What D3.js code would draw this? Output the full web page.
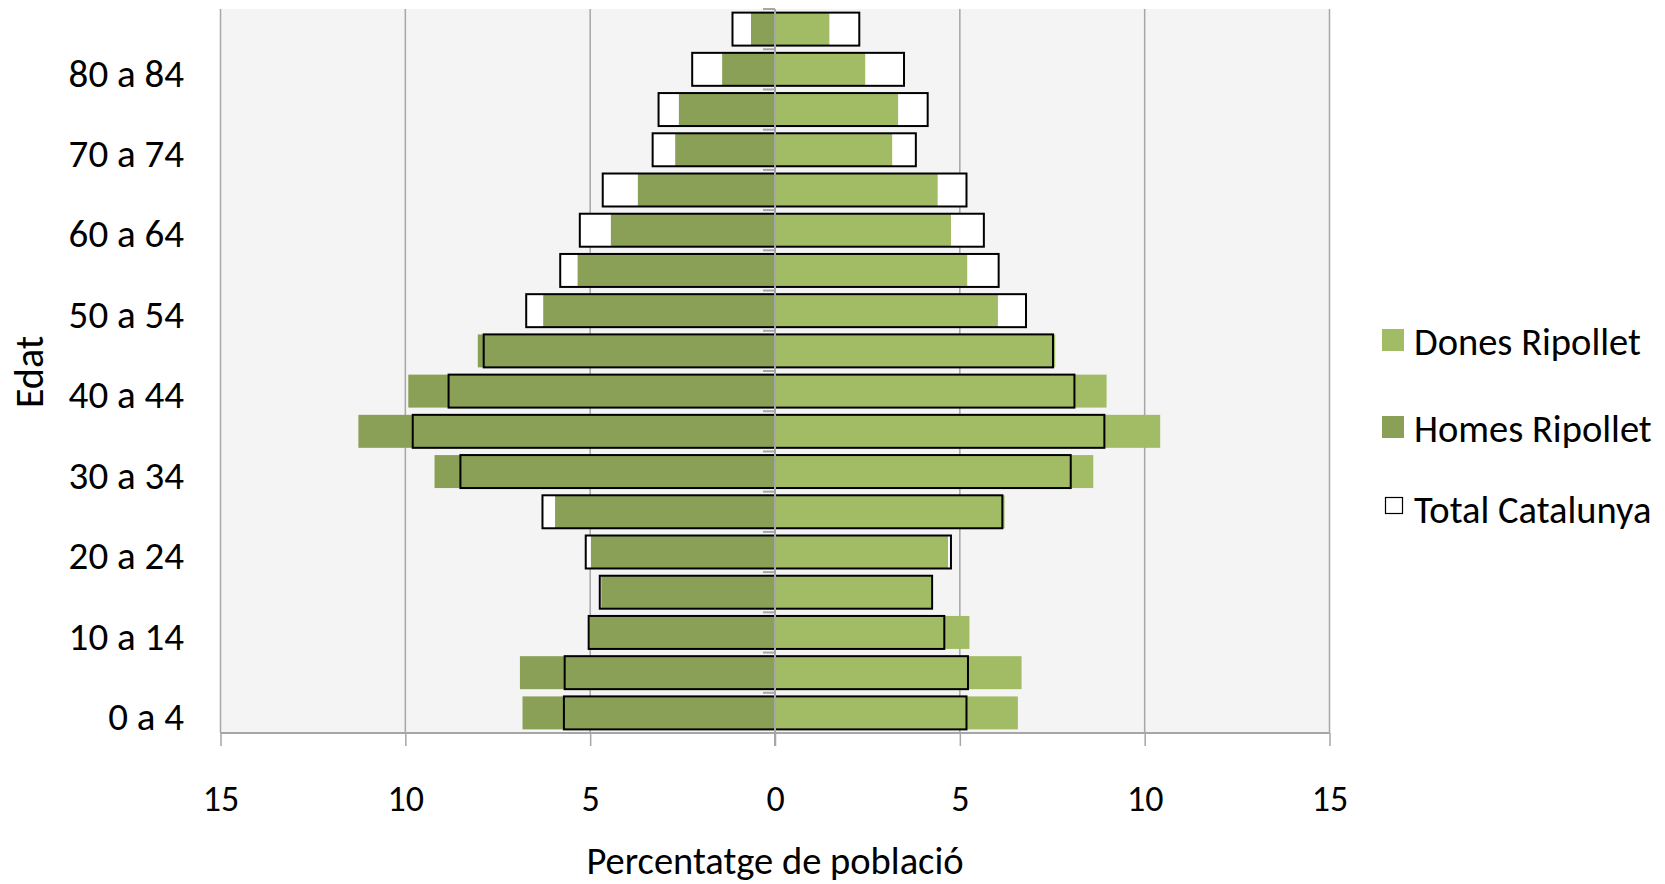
<!DOCTYPE html>
<html>
<head>
<meta charset="utf-8">
<script src="https://cdn.jsdelivr.net/npm/d3@7"></script>
<style>
  html, body { margin: 0; padding: 0; background: #ffffff; }
  svg { display: block; }
  text { font-family: Carlito, Calibri, Lato, sans-serif; fill: #000; }
</style>
</head>
<body>
<svg id="chart" width="1665" height="884"></svg>
<script>
// ---- data (bottom to top) ----
const ages = ["0 a 4","5 a 9","10 a 14","15 a 19","20 a 24","25 a 29","30 a 34","35 a 39","40 a 44","45 a 49","50 a 54","55 a 59","60 a 64","65 a 69","70 a 74","75 a 79","80 a 84","85 i més"];
const homesRipollet   = [6.83, 6.90, 5.02, 4.70, 4.98, 5.95, 9.21, 11.27, 9.92, 8.04, 6.27, 5.34, 4.44, 3.71, 2.70, 2.60, 1.43, 0.65];
const donesRipollet   = [6.57, 6.67, 5.26, 4.22, 4.68, 6.21, 8.61, 10.42, 8.97, 7.58, 6.03, 5.20, 4.76, 4.40, 3.17, 3.33, 2.44, 1.47];
const homesCatalunya  = [5.71, 5.69, 5.04, 4.74, 5.12, 6.29, 8.51, 9.80, 8.83, 7.88, 6.73, 5.81, 5.28, 4.66, 3.31, 3.15, 2.24, 1.15];
const donesCatalunya  = [5.18, 5.22, 4.58, 4.25, 4.76, 6.15, 8.00, 8.91, 8.10, 7.52, 6.79, 6.05, 5.65, 5.18, 3.81, 4.13, 3.49, 2.28];
const xTicks = [-15, -10, -5, 0, 5, 10, 15];
const legendItems = ["Dones Ripollet", "Homes Ripollet", "Total Catalunya"];

const colDones = "#A2BB65", colHomes = "#8AA056", gridCol = "#A6A6A6";

const svg = d3.select("#chart");
const pLeft = 220.5, pRight = 1329.5, pTop = 9, pBottom = 733;

const x = d3.scaleLinear().domain([-15, 15]).range([pLeft, pRight]);
const y = d3.scaleBand().domain(ages).range([pBottom, pTop]).paddingInner(0.18).paddingOuter(0.09);

// plot background
svg.append("rect").attr("x", pLeft).attr("y", pTop).attr("width", pRight - pLeft).attr("height", pBottom - pTop).attr("fill", "#F4F4F4");

// gridlines
svg.append("g").selectAll("line").data(xTicks.filter(d => d !== 0)).join("line")
  .attr("x1", d => x(d)).attr("x2", d => x(d)).attr("y1", pTop).attr("y2", pBottom)
  .attr("stroke", gridCol).attr("stroke-width", 1.5);

const bw = y.bandwidth();
const rows = ages.map((a, i) => ({a, hr: homesRipollet[i], dr: donesRipollet[i], hc: homesCatalunya[i], dc: donesCatalunya[i]}));

// Catalunya white fill
const gC = svg.append("g");
gC.selectAll("rect.hcw").data(rows).join("rect").attr("class", "hcw")
  .attr("x", d => x(-d.hc)).attr("width", d => x(0) - x(-d.hc)).attr("y", d => y(d.a)).attr("height", bw).attr("fill", "#fff");
gC.selectAll("rect.dcw").data(rows).join("rect").attr("class", "dcw")
  .attr("x", x(0)).attr("width", d => x(d.dc) - x(0)).attr("y", d => y(d.a)).attr("height", bw).attr("fill", "#fff");

// Ripollet bars
const gR = svg.append("g");
gR.selectAll("rect.hr").data(rows).join("rect").attr("class", "hr")
  .attr("x", d => x(-d.hr)).attr("width", d => x(0) - x(-d.hr)).attr("y", d => y(d.a)).attr("height", bw).attr("fill", colHomes);
gR.selectAll("rect.dr").data(rows).join("rect").attr("class", "dr")
  .attr("x", x(0)).attr("width", d => x(d.dr) - x(0)).attr("y", d => y(d.a)).attr("height", bw).attr("fill", colDones);

// Catalunya outlines
const gO = svg.append("g");
gO.selectAll("rect.hco").data(rows).join("rect").attr("class", "hco")
  .attr("x", d => x(-d.hc)).attr("width", d => x(0) - x(-d.hc)).attr("y", d => y(d.a)).attr("height", bw)
  .attr("fill", "none").attr("stroke", "#000").attr("stroke-width", 2);
gO.selectAll("rect.dco").data(rows).join("rect").attr("class", "dco")
  .attr("x", x(0)).attr("width", d => x(d.dc) - x(0)).attr("y", d => y(d.a)).attr("height", bw)
  .attr("fill", "none").attr("stroke", "#000").attr("stroke-width", 2);

// bottom axis
const xAxis = d3.axisBottom(x).tickValues(xTicks).tickFormat(d => Math.abs(d)).tickSize(13).tickPadding(36);
const gx = svg.append("g").attr("transform", `translate(0,${pBottom})`).call(xAxis);
gx.select(".domain").attr("stroke", gridCol).attr("stroke-width", 2).attr("d", `M${pLeft},0H${pRight}`);
gx.selectAll(".tick line").attr("stroke", gridCol).attr("stroke-width", 1.5);
gx.selectAll(".tick text").attr("font-size", 36).attr("font-family", "Carlito, Calibri, Lato, sans-serif").attr("fill", "#000").attr("dy", "0.05em")
  .attr("dominant-baseline", "hanging");

// vertical axis at zero with boundary ticks
const step = y.step();
const yStart = y.range()[1] + (y.paddingOuter() - y.paddingInner() / 2) * step;
const bounds = d3.range(ages.length + 1).map(k => yStart + k * step);
const gy = svg.append("g");
gy.selectAll("line.bt").data(bounds).join("line").attr("class", "bt")
  .attr("x1", x(0) - 12).attr("x2", x(0)).attr("y1", d => d).attr("y2", d => d)
  .attr("stroke", gridCol).attr("stroke-width", 2);
gy.append("line").attr("x1", x(0)).attr("x2", x(0)).attr("y1", pTop).attr("y2", pBottom + 13)
  .attr("stroke", gridCol).attr("stroke-width", 2);

// category labels (every other)
const yAxis = d3.axisLeft(y).tickValues(ages.filter((d, i) => i % 2 === 0)).tickSize(0).tickPadding(0);
const gyl = svg.append("g").attr("transform", `translate(184,0)`).call(yAxis);
gyl.select(".domain").remove();
gyl.selectAll(".tick text").attr("font-size", 39).attr("font-family", "Carlito, Calibri, Lato, sans-serif").attr("fill", "#000")
  .attr("dy", "0.44em");

// axis titles
svg.append("text").attr("x", x(0)).attr("y", 874).attr("text-anchor", "middle").attr("font-size", 38.5)
  .text("Percentatge de població");
svg.append("text").attr("transform", "translate(43,372) rotate(-90)").attr("text-anchor", "middle").attr("font-size", 40)
  .text("Edat");

// legend
const legY = [355, 442, 523];
const lg = svg.append("g");
legendItems.forEach((name, i) => {
  if (i < 2) {
    lg.append("rect").attr("x", 1382).attr("y", legY[i] - 26).attr("width", 22).attr("height", 22).attr("fill", i === 0 ? colDones : colHomes);
  } else {
    lg.append("rect").attr("x", 1385.5).attr("y", legY[i] - 25.5).attr("width", 17).attr("height", 16).attr("fill", "#fff").attr("stroke", "#000").attr("stroke-width", 1.2);
  }
  lg.append("text").attr("x", 1414).attr("y", legY[i]).attr("font-size", 38.5).text(name);
});
</script>
</body>
</html>
